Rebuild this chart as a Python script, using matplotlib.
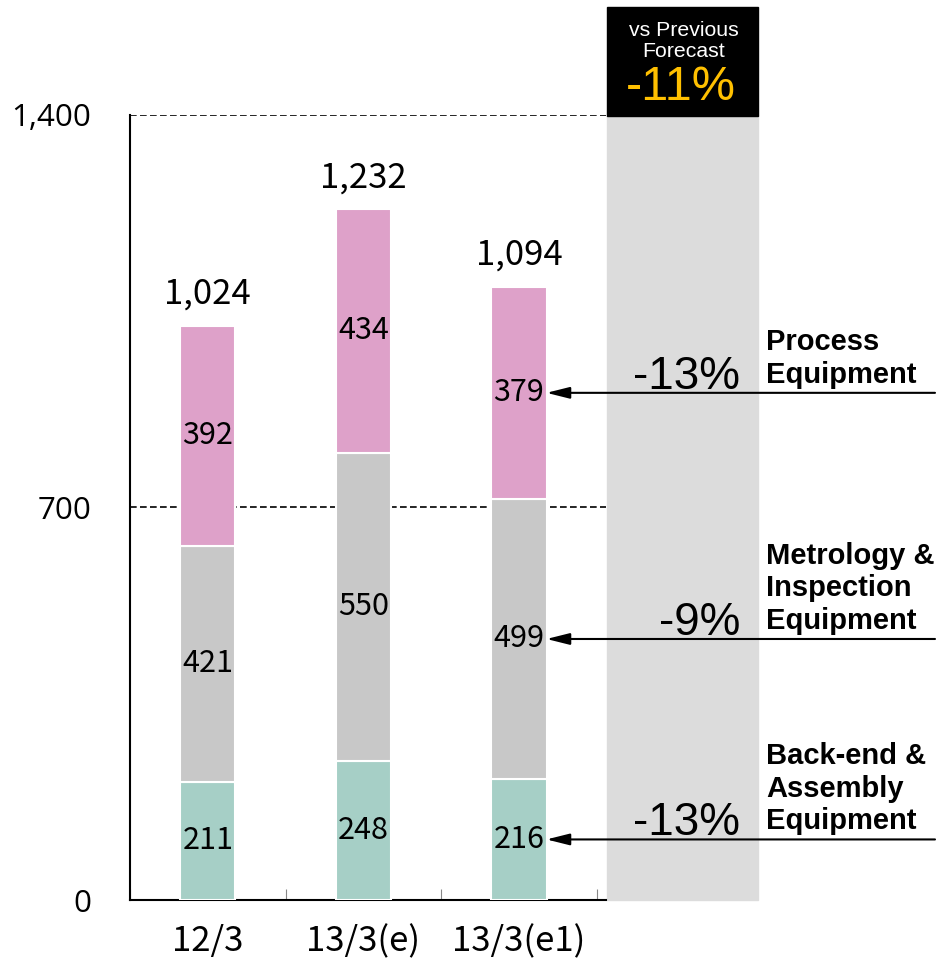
import numpy as np
import matplotlib
matplotlib.use("Agg")
import matplotlib.pyplot as plt
from matplotlib.patches import Rectangle

# Equipment sales by segment (100 million yen)
periods = ["12/3", "13/3(e)", "13/3(e1)"]
backend = [211, 248, 216]
metrology = [421, 550, 499]
process = [392, 434, 379]
totals = [1024, 1232, 1094]

segment_names = ["Back-end &\nAssembly\nEquipment",
                 "Metrology &\nInspection\nEquipment",
                 "Process\nEquipment"]
segment_change = ["-13%", "-9%", "-13%"]
overall_change = "-11%"

colors = ["#a6cfc6", "#c8c8c8", "#dea1c9"]
jp_font = ["Noto Sans CJK JP", "DejaVu Sans"]
label_font = ["Liberation Sans", "DejaVu Sans"]

fig = plt.figure(figsize=(9.36, 9.63), dpi=100)
ax = fig.add_axes([130 / 936, 1 - 900 / 963, 476 / 936, 785 / 963])

x = np.arange(len(periods))
width = 0.355
bottoms = np.zeros(len(periods))
for vals, col in zip([backend, metrology, process], colors):
    ax.bar(x, vals, width, bottom=bottoms, color=col,
           edgecolor="white", linewidth=1.5, zorder=3)
    for xi, b, v in zip(x, bottoms, vals):
        ax.text(xi, b + v / 2, f"{v}", ha="center", va="center",
                fontsize=22, family=jp_font, zorder=4)
    bottoms += np.array(vals)

for xi, t in zip(x, totals):
    ax.text(xi, t + 25, f"{t:,}", ha="center", va="bottom",
            fontsize=25, family=jp_font)

ax.set_xlim(-0.5, 2.56)
ax.set_ylim(0, 1400)
ax.set_yticks([0, 700, 1400])
ax.set_yticklabels(["0", "700", "1,400"], fontsize=22.5,
                   family=["Open Sans", "DejaVu Sans"])
ax.yaxis.grid(True, linestyle=(0, (4, 2)), color="black", linewidth=1.2, zorder=0)
ax.set_axisbelow(True)
ax.tick_params(axis="y", length=0, pad=28)

ax.set_xticks([-0.5, 0.5, 1.5, 2.5])
ax.set_xticklabels([])
ax.tick_params(axis="x", which="major", direction="in", length=8, color="#888888")

# period labels under each bar
for xi, p in zip(x, periods):
    ax.annotate(p, xy=(xi, 0), xycoords="data", xytext=(0, -30),
                textcoords="offset points", ha="center", va="center",
                fontsize=25, family=jp_font, annotation_clip=False)

for side in ["top", "right"]:
    ax.spines[side].set_visible(False)
for side in ["left", "bottom"]:
    ax.spines[side].set_linewidth(1.5)

# comparison panel on the right
fig.add_artist(Rectangle((607 / 936, 1 - 900 / 963), 151 / 936, 785 / 963,
                         transform=fig.transFigure, color="#dcdcdc", zorder=0))
fig.add_artist(Rectangle((607 / 936, 1 - 116 / 963), 151 / 936, 109 / 963,
                         transform=fig.transFigure, color="black", zorder=1))
fig.text(684 / 936, 1 - 41 / 963, "vs Previous\nForecast", ha="center", va="center",
         color="white", fontsize=15.3, family=label_font, linespacing=1.1, zorder=2)
fig.text(681 / 936, 1 - 88 / 963, overall_change, ha="center", va="center",
         color="#ffc000", fontsize=35, family=label_font, zorder=2)

# arrows pointing to each segment of the latest forecast
mids = [backend[2] / 2,
        backend[2] + metrology[2] / 2,
        backend[2] + metrology[2] + process[2] / 2]
for mid, name, chg in zip(mids, segment_names, segment_change):
    ax.annotate("", xy=(2 + width / 2, mid), xycoords="data",
                xytext=(935 / 936, mid), textcoords=("figure fraction", "data"),
                arrowprops=dict(arrowstyle="-|>,head_length=1.4,head_width=0.35",
                                color="black", lw=1.5, shrinkA=0, shrinkB=0),
                annotation_clip=False)
    ax.annotate(chg, xy=(740 / 936, mid), xycoords=("figure fraction", "data"),
                xytext=(0, 3), textcoords="offset points", ha="right", va="baseline",
                fontsize=33, family=label_font, annotation_clip=False)
    ax.annotate(name, xy=(766 / 936, mid), xycoords=("figure fraction", "data"),
                xytext=(0, 3), textcoords="offset points", ha="left", va="bottom",
                fontsize=21, fontweight="bold", family=label_font, linespacing=1.2,
                annotation_clip=False)

fig.savefig("out.png", dpi=100)
